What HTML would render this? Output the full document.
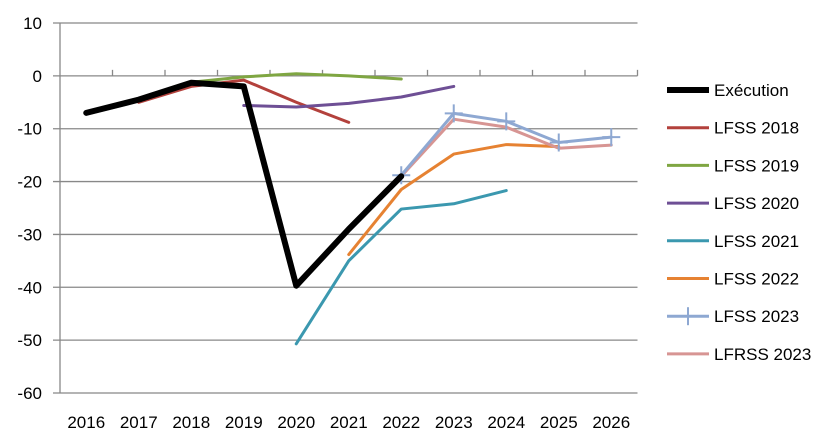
<!DOCTYPE html>
<html><head><meta charset="utf-8"><style>
body{margin:0;background:#fff;}
svg{display:block;font-family:"Liberation Sans",sans-serif;}
</style></head><body>
<svg id="c" width="832" height="446"></svg>
<script>
const years=[2016,2017,2018,2019,2020,2021,2022,2023,2024,2025,2026];
const yTicks=[10,0,-10,-20,-30,-40,-50,-60];
const seriesNames=["Exécution","LFSS 2018","LFSS 2019","LFSS 2020","LFSS 2021","LFSS 2022","LFSS 2023","LFRSS 2023"];
const seriesColors=["#000000","#b3413c","#7fa642","#6e4f95","#3b98af","#e68232","#8ea8d2","#d79593"];
const seriesWidths=[6,3,3,3,3,3,3,3];
const execution=[-7,-4.5,-1.3,-2,-39.7,-29,-19,null,null,null,null];
const lfss2018=[null,-5,-2,-0.8,-5,-8.8,null,null,null,null,null];
const lfss2019=[null,null,-1.2,-0.2,0.4,0,-0.6,null,null,null,null];
const lfss2020=[null,null,null,-5.6,-5.9,-5.2,-4,-2,null,null,null];
const lfss2021=[null,null,null,null,-50.7,-35,-25.2,-24.2,-21.7,null,null];
const lfss2022=[null,null,null,null,null,-33.8,-21.5,-14.8,-13,-13.4,null];
const lfss2023=[null,null,null,null,null,null,-18.8,-7.1,-8.6,-12.6,-11.6];
const lfrss2023=[null,null,null,null,null,null,-19,-8.2,-9.7,-13.7,-13.1];
const allSeries=[execution,lfss2018,lfss2019,lfss2020,lfss2021,lfss2022,lfss2023,lfrss2023];
const drawOrder=[1,2,3,4,5,7,6,0];

const NS="http://www.w3.org/2000/svg";
const svg=document.getElementById('c');
const X0=60,X1=637.5,Y0=23,Y1=393,yMax=10,yMin=-60;
const step=(X1-X0)/years.length;
const xs=i=>X0+step*(i+0.5);
const ys=v=>Y0+(yMax-v)/(yMax-yMin)*(Y1-Y0);
function mk(t,a){const e=document.createElementNS(NS,t);for(const k in a)e.setAttribute(k,a[k]);svg.appendChild(e);return e;}

yTicks.forEach(v=>{
  const g=mk('line',{x1:X0-7,x2:X1,y1:ys(v),y2:ys(v),stroke:'#888','stroke-width':1.3});
  
  
  const t=mk('text',{x:42,y:ys(v)+6,'text-anchor':'end','font-size':17,fill:'#000'});
  t.textContent=v;
  
  
});
const ax=mk('line',{x1:X0,x2:X0,y1:Y0,y2:Y1,stroke:'#888','stroke-width':1.3});


for(let i=1;i<=years.length;i++){
  const x=X0+step*i;
  const tk=mk('line',{x1:x,x2:x,y1:ys(0),y2:ys(0)-6,stroke:'#888','stroke-width':1.3});
  
  
}
years.forEach((y,i)=>{
  const t=mk('text',{x:xs(i),y:428,'text-anchor':'middle','font-size':17,fill:'#000'});
  t.textContent=y;
  
  
});
drawOrder.forEach(si=>{
  const d=allSeries[si];let pts=[];
  d.forEach((v,i)=>{if(v!==null)pts.push(xs(i)+','+ys(v));});
  const p=mk('polyline',{points:pts.join(' '),fill:'none',stroke:seriesColors[si],'stroke-width':seriesWidths[si],'stroke-linejoin':'round','stroke-linecap':'round'});
  
  
  if(si===6){
    d.forEach((v,i)=>{if(v===null)return;
      const m=mk('path',{d:`M${xs(i)-9},${ys(v)}h18M${xs(i)},${ys(v)-9}v18`,stroke:seriesColors[si],'stroke-width':2});
      
      
    });
  }
});
seriesNames.forEach((n,i)=>{
  const y=90+i*37.7;
  const l=mk('line',{x1:667,x2:709,y1:y,y2:y,stroke:seriesColors[i],'stroke-width':seriesWidths[i]});
  
  
  if(i===6){const m=mk('path',{d:`M688,${y-9}v18`,stroke:seriesColors[i],'stroke-width':2});
    
    }
  const t=mk('text',{x:714,y:y+6,'font-size':17,fill:'#000'});
  t.textContent=n;
  
  
});
</script>
</body></html>
